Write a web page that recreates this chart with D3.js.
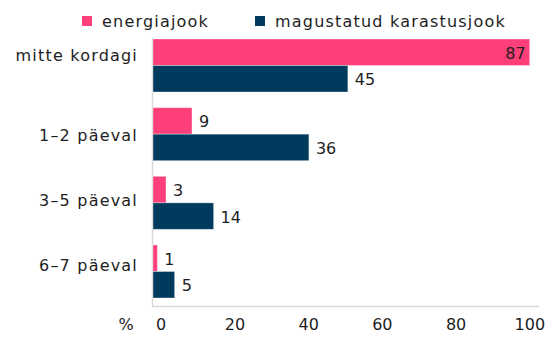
<!DOCTYPE html>
<html>
<head>
<meta charset="utf-8">
<script src="https://cdn.jsdelivr.net/npm/d3@7/dist/d3.min.js"></script>
<style>
  html, body { margin: 0; padding: 0; background: #fff; }
  svg text { font-family: "DejaVu Sans", sans-serif; fill: #1e1e1e; }
</style>
</head>
<body>
<svg id="chart" width="554" height="342"></svg>
<script>
// Share of respondents (%) by how many days per week they drink each beverage
const categories = ["mitte kordagi", "1–2 päeval", "3–5 päeval", "6–7 päeval"];
const seriesNames = ["energiajook", "magustatud karastusjook"];
const energyDrink = [87, 9, 3, 1];
const sugaryDrink = [45, 36, 14, 5];
const tickValues = [0, 20, 40, 60, 80, 100];
const axisUnit = "%";

const seriesValues = [energyDrink, sugaryDrink];
const colors = ["#ff3f79", "#003a5c"];

const svg = d3.select("#chart");

// Bar length scale
const x = d3.scaleLinear().domain([0, 100]).range([153, 586]);
// Scale used to place the tick labels along the bottom
const xTicks = d3.scaleLinear().domain([0, 100]).range([160.7, 529.3]);

const y = d3.scaleBand().domain(categories).range([39, 298]).paddingInner(0.228).paddingOuter(0);
const ySub = d3.scaleBand().domain(seriesNames).range([0, y.bandwidth()]).padding(0);

const rows = categories.map((c, i) => ({
  category: c,
  values: seriesNames.map((s, j) => ({ series: s, value: seriesValues[j][i], color: colors[j] }))
}));

// Frame lines: left axis and bottom rule
svg.append("line")
  .attr("x1", x(0) - 0.5).attr("x2", x(0) - 0.5)
  .attr("y1", 38).attr("y2", 307)
  .attr("stroke", "#d9d9d9").attr("stroke-width", 1.5);
svg.append("line")
  .attr("x1", x(0) - 0.5).attr("x2", 539)
  .attr("y1", 306.5).attr("y2", 306.5)
  .attr("stroke", "#d9d9d9").attr("stroke-width", 1.5);

const groups = svg.selectAll("g.row").data(rows).join("g")
  .attr("class", "row")
  .attr("transform", d => `translate(0,${y(d.category)})`);

groups.selectAll("rect").data(d => d.values).join("rect")
  .attr("x", x(0))
  .attr("y", d => ySub(d.series))
  .attr("width", d => x(d.value) - x(0))
  .attr("height", ySub.bandwidth())
  .attr("fill", d => d.color)
  .attr("stroke", "#ffffff").attr("stroke-opacity", 0.35).attr("stroke-width", 1);

// Value labels: inside the bar when it runs near the right edge, otherwise just after it
groups.selectAll("text.val").data(d => d.values).join("text")
  .attr("class", "val")
  .attr("font-size", 16)
  .attr("dominant-baseline", "central")
  .attr("y", d => ySub(d.series) + ySub.bandwidth() / 2 + 1)
  .attr("x", d => x(d.value) > 500 ? x(d.value) - 4 : x(d.value) + 7)
  .attr("text-anchor", d => x(d.value) > 500 ? "end" : "start")
  .text(d => d.value);

// Category labels
const labelNudge = [-10, 1, -2, -6];
svg.append("g").selectAll("text").data(categories).join("text")
  .attr("x", 138)
  .attr("y", (d, i) => y(d) + y.bandwidth() / 2 + labelNudge[i])
  .attr("dominant-baseline", "central")
  .attr("text-anchor", "end")
  .attr("font-size", 16)
  .attr("letter-spacing", "1.2px")
  .text(d => d);

// Tick labels along the bottom
const xAxis = d3.axisBottom(xTicks).tickValues(tickValues).tickSize(0).tickPadding(0);
const axisG = svg.append("g").attr("transform", "translate(0,319)").call(xAxis);
axisG.select(".domain").remove();
axisG.selectAll("text")
  .attr("font-size", 16)
  .attr("font-family", "DejaVu Sans, sans-serif")
  .attr("fill", "#1e1e1e")
  .attr("dy", "0.71em");

svg.append("text")
  .attr("x", 126).attr("y", 319).attr("dy", "0.71em")
  .attr("text-anchor", "middle")
  .attr("font-size", 16)
  .text(axisUnit);

// Legend
const legendX = [82, 255];
const legend = svg.append("g").selectAll("g").data(seriesNames).join("g")
  .attr("transform", (d, i) => `translate(${legendX[i]},16)`);
legend.append("rect").attr("width", 10).attr("height", 10).attr("fill", (d, i) => colors[i]);
legend.append("text")
  .attr("x", 20).attr("y", 5)
  .attr("dominant-baseline", "central")
  .attr("font-size", 16)
  .attr("letter-spacing", "1.2px")
  .text(d => d);
</script>
</body>
</html>
